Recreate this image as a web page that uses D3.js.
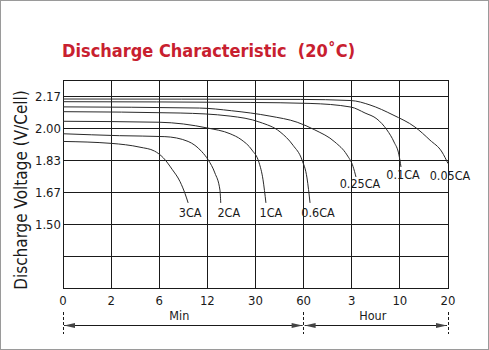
<!DOCTYPE html>
<html>
<head>
<meta charset="utf-8">
<script src="https://cdn.jsdelivr.net/npm/d3@7"></script>
<style>
  html, body { margin: 0; padding: 0; background: #fff; }
  svg { display: block; }
  text { font-family: "DejaVu Sans Condensed", "DejaVu Sans", sans-serif; font-stretch: condensed; }
</style>
</head>
<body>
<svg id="chart" width="489" height="350"></svg>
<script>
// Discharge time axis: minutes, spaced evenly by tick (0 min .. 20 h)
const timeTicks = [0, 2, 6, 12, 30, 60, 180, 600, 1200];
const timeTickLabels = ["0", "2", "6", "12", "30", "60", "3", "10", "20"];

// Voltage grid (V/cell), one step = 1/6 V
const voltGrid = [13 / 6, 2, 11 / 6, 5 / 3, 3 / 2, 4 / 3];
const voltTickLabels = ["2.17", "2.00", "1.83", "1.67", "1.50"];

// Discharge rates and their curves: [minutes, volts]
const rates = ["3CA", "2CA", "1CA", "0.6CA", "0.25CA", "0.1CA", "0.05CA"];
const curve3CA = [[0, 1.93], [2, 1.92], [4.4, 1.90], [5.6, 1.88], [6.5, 1.845], [7.6, 1.785], [8.6, 1.72], [9.2, 1.66], [9.6, 1.61]];
const curve2CA = [[0, 1.97], [2.7, 1.96], [6.7, 1.955], [9.6, 1.93], [11.3, 1.877], [12.35, 1.833], [14.8, 1.766], [16.7, 1.677], [17, 1.61]];
const curve1CA = [[0, 2.035], [6, 2.03], [12, 2.0], [20.5, 1.97], [24.6, 1.94], [28.7, 1.885], [32.2, 1.82], [34.7, 1.73], [36.5, 1.61]];
const curve06CA = [[0, 2.085], [8.6, 2.078], [20.5, 2.062], [32.8, 2.03], [45.3, 1.98], [53.4, 1.91], [59, 1.833], [68.4, 1.74], [76, 1.61]];
const curve025CA = [[0, 2.11], [11, 2.104], [21, 2.09], [39, 2.062], [56, 2.03], [88, 1.99], [138, 1.927], [168, 1.86], [191, 1.80], [217, 1.745]];
const curve01CA = [[0, 2.137], [28, 2.133], [76, 2.128], [178, 2.109], [296, 2.078], [400, 2.047], [487, 1.99], [549, 1.927], [592, 1.86], [614, 1.797]];
const curve005CA = [[0, 2.151], [58, 2.149], [178, 2.143], [339, 2.12], [540, 2.068], [788, 2.005], [975, 1.937], [1125, 1.875], [1200, 1.815]];
const curves = [curve3CA, curve2CA, curve1CA, curve06CA, curve025CA, curve01CA, curve005CA];

// Label placement relative to each curve end (px)
const labelOffset = [[2, 14], [8, 14], [5, 14], [8, 14], [4, 11], [2, 12], [2, 16]];

const svg = d3.select("#chart");
const plot = { left: 63, right: 448, top: 80, bottom: 288 };

const x = d3.scaleLinear()
  .domain(timeTicks)
  .range(timeTicks.map((d, i) => plot.left + i * (plot.right - plot.left) / (timeTicks.length - 1)));
const y = d3.scaleLinear().domain([7 / 6, 2.25]).range([plot.bottom, plot.top]);

const crisp = v => Math.round(v) + 0.5;
const ink = "#1a1a1a";

// outer frame
svg.append("rect")
  .attr("x", 0.5).attr("y", 0.5).attr("width", 488).attr("height", 349)
  .attr("fill", "none").attr("stroke", "#9a9a9a");

// title
svg.append("text")
  .attr("x", 62).attr("y", 57)
  .attr("fill", "#c8202f")
  .attr("font-size", 18).attr("font-weight", "bold")
  .style("white-space", "pre")
  .text("Discharge Characteristic  (20\u02DAC)");

// grid
const grid = svg.append("g").attr("stroke", ink).attr("stroke-width", 1);
grid.selectAll("line.v").data(timeTicks).join("line")
  .attr("class", "v")
  .attr("x1", d => crisp(x(d) - 0.5)).attr("x2", d => crisp(x(d) - 0.5))
  .attr("y1", plot.top).attr("y2", plot.bottom);
grid.selectAll("line.h").data(voltGrid).join("line")
  .attr("class", "h")
  .attr("x1", plot.left).attr("x2", plot.right)
  .attr("y1", d => crisp(y(d))).attr("y2", d => crisp(y(d)));
grid.append("rect")
  .attr("x", crisp(plot.left - 0.5)).attr("y", crisp(plot.top - 0.5))
  .attr("width", Math.round(plot.right - plot.left)).attr("height", plot.bottom - plot.top)
  .attr("fill", "none");

// y tick labels
svg.append("g").selectAll("text").data(voltTickLabels).join("text")
  .attr("x", 61).attr("y", (d, i) => y(voltGrid[i]))
  .attr("dy", "0.36em")
  .attr("text-anchor", "end")
  .attr("font-size", 13).attr("fill", ink)
  .text(d => d);

// x tick labels
svg.append("g").selectAll("text").data(timeTickLabels).join("text")
  .attr("x", (d, i) => x(timeTicks[i]))
  .attr("y", 305)
  .attr("text-anchor", "middle")
  .attr("font-size", 13).attr("fill", ink)
  .text(d => d);

// y axis title
svg.append("text")
  .attr("transform", "translate(27,190) rotate(-90)")
  .attr("text-anchor", "middle")
  .attr("font-size", 17).attr("fill", ink)
  .text("Discharge Voltage (V/Cell)");

// discharge curves
const line = d3.line()
  .x(d => x(d[0]))
  .y(d => y(d[1]))
  .curve(d3.curveMonotoneX);
svg.append("g").selectAll("path").data(curves).join("path")
  .attr("d", line)
  .attr("fill", "none")
  .attr("stroke", "#2a2a2a")
  .attr("stroke-width", 1);

// rate labels at the end of each curve
svg.append("g").selectAll("text").data(rates).join("text")
  .attr("x", (d, i) => x(curves[i][curves[i].length - 1][0]) + labelOffset[i][0])
  .attr("y", (d, i) => y(curves[i][curves[i].length - 1][1]) + labelOffset[i][1])
  .attr("text-anchor", "middle")
  .attr("font-size", 12.5).attr("fill", ink)
  .text(d => d);

// unit spans under the time axis
const spans = [
  { name: "Min", from: 0, to: 60 },
  { name: "Hour", from: 60, to: 1200 }
];
const spanY = 325;
const bracket = svg.append("g");
[0, 60, 1200].forEach(t => {
  bracket.append("line")
    .attr("x1", crisp(x(t) - 0.5)).attr("x2", crisp(x(t) - 0.5))
    .attr("y1", 312).attr("y2", 334)
    .attr("stroke", ink).attr("stroke-dasharray", "3,2");
});
spans.forEach(s => {
  const a = x(s.from) + 1, b = x(s.to) - 1;
  bracket.append("line")
    .attr("x1", a).attr("x2", b).attr("y1", spanY + 0.5).attr("y2", spanY + 0.5)
    .attr("stroke", ink);
  bracket.append("path")
    .attr("d", `M${a},${spanY + 0.5}l11,-2.5v5z`)
    .attr("fill", "#444");
  bracket.append("path")
    .attr("d", `M${b},${spanY + 0.5}l-11,-2.5v5z`)
    .attr("fill", "#444");
  bracket.append("text")
    .attr("x", (x(s.from) + x(s.to)) / 2 + (s.name === "Min" ? -4 : -3))
    .attr("y", 320)
    .attr("text-anchor", "middle")
    .attr("font-size", 12.5).attr("fill", ink)
    .text(s.name);
});
</script>
</body>
</html>
